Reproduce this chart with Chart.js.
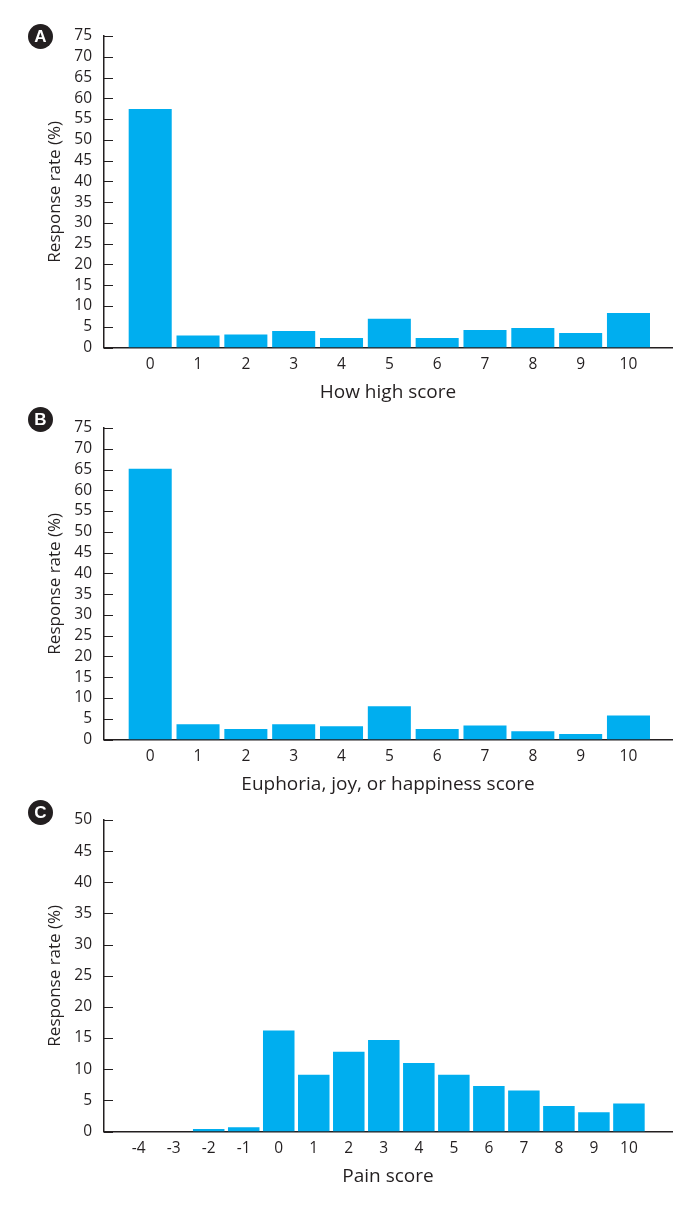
<!DOCTYPE html>
<html>
<head>
<meta charset="utf-8">
<script src="https://cdn.jsdelivr.net/npm/chart.js@4.4.1/dist/chart.umd.min.js"></script>
<style>
  html, body { margin: 0; padding: 0; background: #fff; }
  body { width: 700px; height: 1208px; position: relative; overflow: hidden; }
  .panel { position: absolute; left: 0; width: 700px; height: 420px; }
  .badge {
    position: absolute; width: 25px; height: 25px; border-radius: 50%;
    background: #231f20; color: #fff; font: bold 17px "Liberation Sans", Arial, sans-serif;
    line-height: 25px; text-align: center;
  }
</style>
</head>
<body>
<div class="panel" style="top:0"><canvas id="chartA" width="700" height="420"></canvas></div>
<div class="panel" style="top:392px"><canvas id="chartB" width="700" height="420"></canvas></div>
<div class="panel" style="top:784px"><canvas id="chartC" width="700" height="420"></canvas></div>
<div class="badge" style="left:28px;top:24px">A</div>
<div class="badge" style="left:28px;top:407px">B</div>
<div class="badge" style="left:28px;top:800px">C</div>
<script>
// Panel A: how high score
const highScores = [0, 1, 2, 3, 4, 5, 6, 7, 8, 9, 10];
const highRates  = [57.4, 2.9, 3.1, 4.0, 2.3, 6.9, 2.3, 4.2, 4.7, 3.5, 8.3];

// Panel B: euphoria, joy, or happiness score
const joyScores = [0, 1, 2, 3, 4, 5, 6, 7, 8, 9, 10];
const joyRates  = [65.2, 3.7, 2.5, 3.7, 3.2, 8.0, 2.5, 3.4, 2.0, 1.3, 5.8];

// Panel C: pain score
const painScores = [-4, -3, -2, -1, 0, 1, 2, 3, 4, 5, 6, 7, 8, 9, 10];
const painRates  = [0, 0, 0.4, 0.7, 16.2, 9.1, 12.8, 14.7, 11.0, 9.1, 7.3, 6.6, 4.1, 3.1, 4.5];

const INK = '#231f20';
const BAR = '#00aeef';
const FONT = '"Open Sans", "Noto Sans", sans-serif';

/** Short tick marks drawn inward from the y axis */
const innerTicks = {
  id: 'innerTicks',
  afterDraw(chart) {
    const { ctx, chartArea, scales } = chart;
    ctx.save();
    ctx.strokeStyle = INK;
    ctx.lineWidth = 1;
    scales.y.ticks.forEach(t => {
      const y = Math.round(scales.y.getPixelForValue(t.value)) + 0.5;
      ctx.beginPath();
      ctx.moveTo(chartArea.left, y);
      ctx.lineTo(chartArea.left + 9, y);
      ctx.stroke();
    });
    ctx.restore();
  }
};

function makeChart(canvasId, cats, rates, xMin, xMax, yMax, xTitle) {
  const ctx = document.getElementById(canvasId).getContext('2d');
  return new Chart(ctx, {
    type: 'bar',
    data: {
      datasets: [{
        data: cats.map((c, i) => ({ x: c, y: rates[i] })),
        backgroundColor: BAR,
        borderWidth: 0,
        barPercentage: 0.9,
        categoryPercentage: 1.0
      }]
    },
    options: {
      responsive: false,
      animation: false,
      layout: { padding: { top: 36, right: 28, left: 0, bottom: 0 } },
      plugins: { legend: { display: false }, tooltip: { enabled: false } },
      scales: {
        x: {
          type: 'linear',
          offset: false,
          min: xMin,
          max: xMax,
          afterBuildTicks: s => { s.ticks = cats.map(v => ({ value: v })); },
          afterFit: s => { s.height = 72.5; },
          grid: { display: false, drawTicks: false, offset: false },
          border: { display: true, color: INK, width: 1.5 },
          ticks: {
            autoSkip: false, maxRotation: 0, padding: 8,
            color: INK, font: { family: FONT, size: 15.5 },
            callback: v => String(v)
          },
          title: {
            display: true, text: xTitle, color: INK,
            font: { family: FONT, size: 19 },
            padding: { top: 0, bottom: 16 }
          }
        },
        y: {
          min: 0,
          max: yMax,
          afterFit: s => { s.width = 104; },
          grid: { display: false, drawTicks: false },
          border: { display: true, color: INK, width: 1.5 },
          ticks: {
            stepSize: 5, padding: 12, autoSkip: false,
            color: INK, font: { family: FONT, size: 15.5 }
          },
          title: {
            display: true, text: 'Response rate (%)', color: INK,
            font: { family: FONT, size: 17 },
            padding: { top: 45, bottom: 0 }
          }
        }
      }
    },
    plugins: [innerTicks]
  });
}

makeChart('chartA', highScores, highRates, -0.966, 10.91, 75, 'How high score');
makeChart('chartB', joyScores, joyRates, -0.966, 10.91, 75, 'Euphoria, joy, or happiness score');
makeChart('chartC', painScores, painRates, -4.99, 11.23, 50, 'Pain score');
</script>
</body>
</html>
